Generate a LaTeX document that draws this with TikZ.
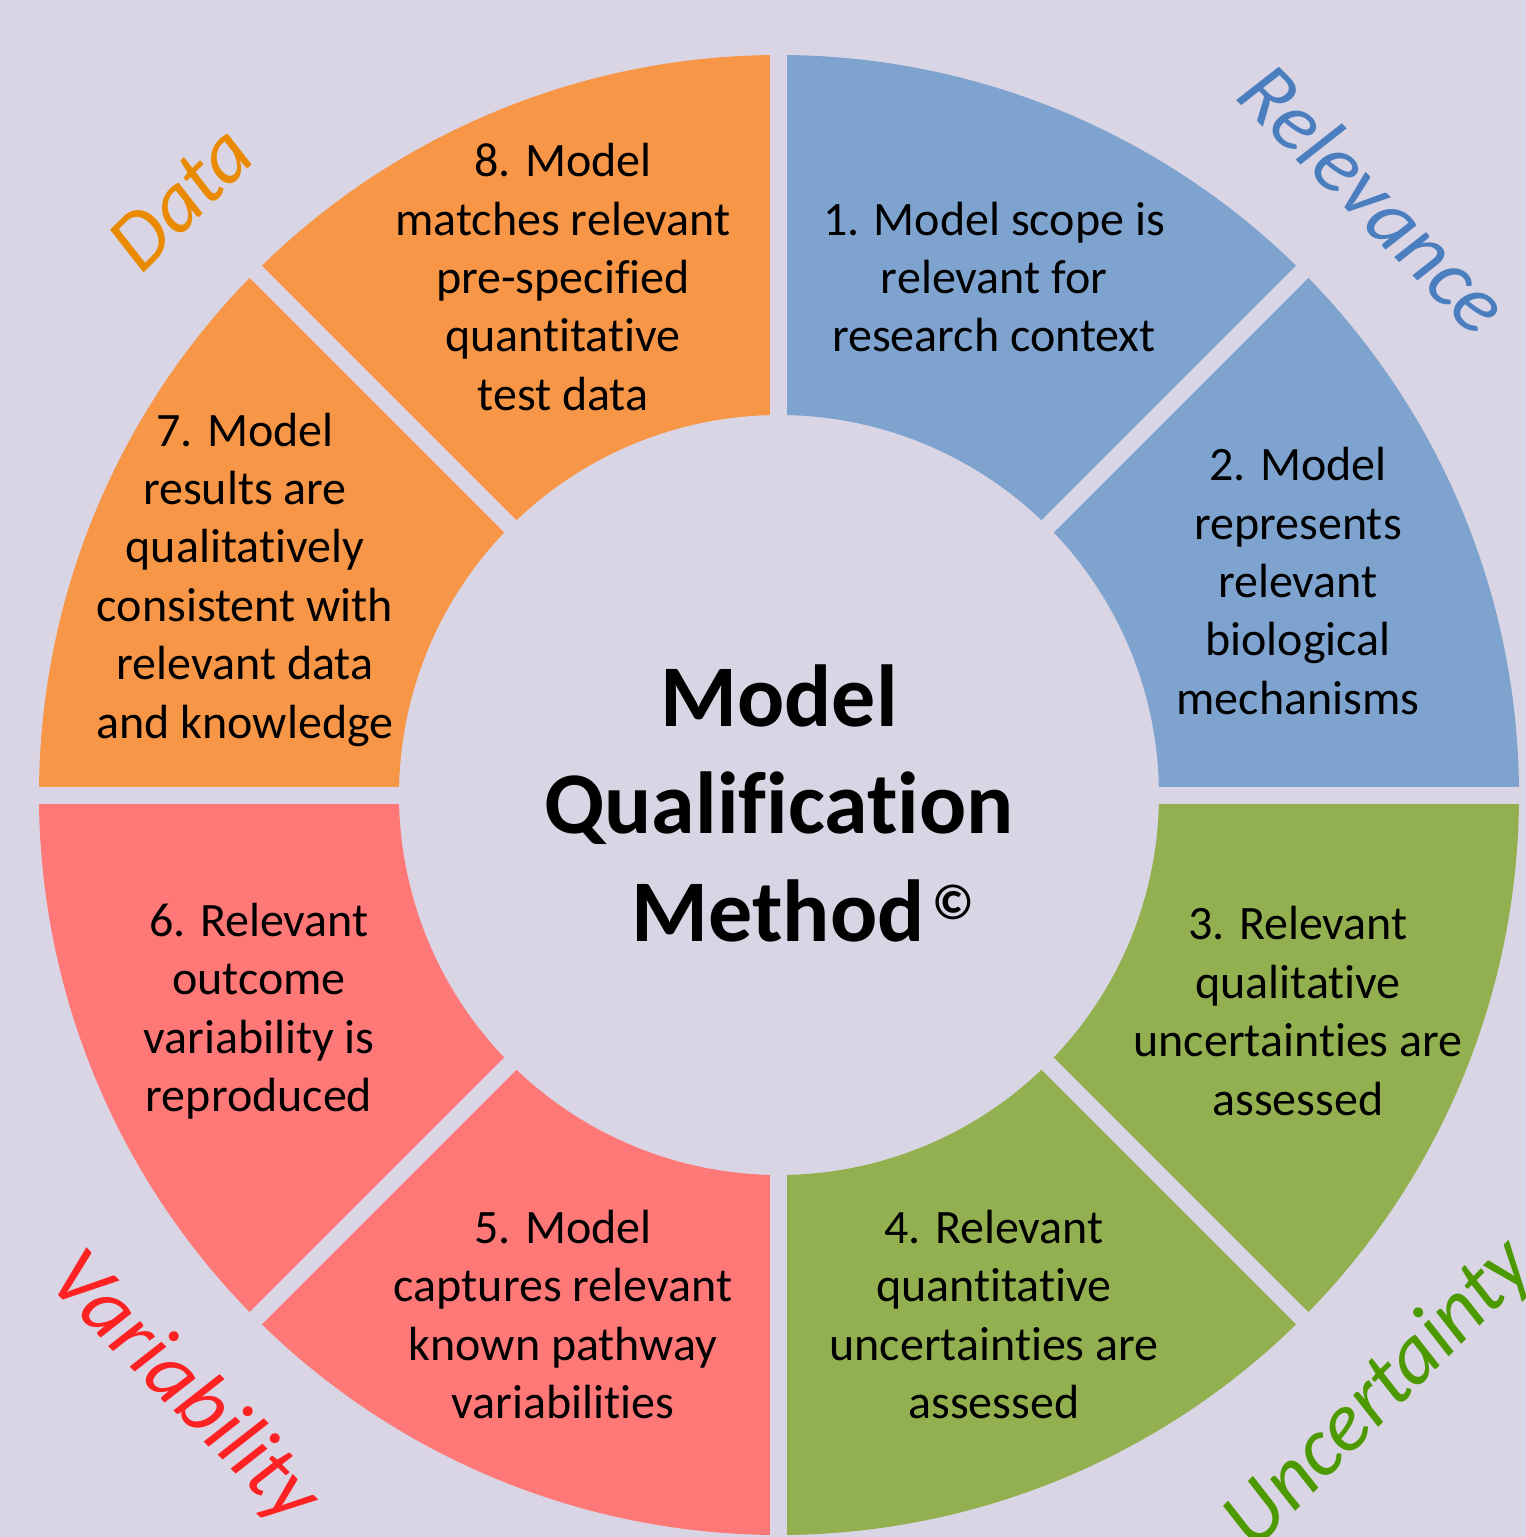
\documentclass[tikz,border=0pt]{standalone}
\usepackage{fontspec}
\setmainfont{Carlito}[Ligatures=NoCommon]
\definecolor{bgc}{HTML}{D9D5E5}
\definecolor{segblue}{HTML}{7EA3CF}
\definecolor{seggreen}{HTML}{92B050}
\definecolor{segred}{HTML}{FF7878}
\definecolor{segorange}{HTML}{F79646}
\definecolor{relc}{HTML}{4A7EBF}
\definecolor{uncc}{HTML}{4D9A00}
\definecolor{varc}{HTML}{FF2222}
\definecolor{datc}{HTML}{E98A00}
\newcommand\ringseg[3]{\fill[#3] (#1:380pt) arc[start angle=#1,end angle=#2,radius=380pt] -- (#2:740pt) arc[start angle=#2,end angle=#1,radius=740pt] -- cycle;}
\begin{document}
\begin{tikzpicture}[x=1pt,y=1pt,
  segtext/.style={font=\fontsize{48}{58.4}\selectfont, align=center, text=black, inner sep=0pt},
  lbl/.style={font=\fontsize{84}{100}\selectfont\itshape, inner sep=0pt},
  gapline/.style={draw=bgc, line width=17pt}]
\fill[bgc] (-779,-742) rectangle (747,795);
\useasboundingbox (-779,-742) rectangle (747,795);
% ring segments
\ringseg{45}{90}{segblue}
\ringseg{0}{45}{segblue}
\ringseg{-45}{0}{seggreen}
\ringseg{-90}{-45}{seggreen}
\ringseg{-135}{-90}{segred}
\ringseg{180}{225}{segred}
\ringseg{135}{180}{segorange}
\ringseg{90}{135}{segorange}
% gaps
\foreach \a in {0,45,...,315}{\draw[gapline] (0,0) -- (\a:760pt);}
% segment texts
\node[segtext] (s1) at (215,518) {1. Model scope is\\relevant for\\research context};
\node[segtext] (s2) at (519,214) {2. Model\\represents\\relevant\\biological\\mechanisms};
\node[segtext] (s3) at (519,-216) {3. Relevant\\qualitative\\uncertainties are\\assessed};
\node[segtext] (s4) at (215,-519.5) {4. Relevant\\quantitative\\uncertainties are\\assessed};
\node[segtext] (s5) at (-216,-519.5) {5. Model\\captures relevant\\known pathway\\variabilities};
\node[segtext] (s6) at (-520,-216) {6. Relevant\\outcome\\variability is\\reproduced};
\node[segtext] (s7) at (-534,215.5) {7. Model\\results are\\qualitatively\\consistent with\\relevant data\\and knowledge};
\node[segtext] (s8) at (-216,518) {8. Model\\matches relevant\\pre-specified\\quantitative\\test data};
% title
\node[font=\fontsize{88}{107.5}\selectfont\bfseries, align=center, inner sep=0pt] (title) at (0,-8)
  {Model\\Qualification\\\hspace*{48pt}Method\hspace{8pt}\raisebox{22pt}{\fontsize{50}{50}\selectfont ©}};
% outer labels
\node[lbl, text=relc, rotate=-45] (relevance) at (596,597) {Relevance};
\node[lbl, text=uncc, rotate=45] (uncertainty) at (601,-600) {Uncertainty};
\node[lbl, text=varc, rotate=-45] (variability) at (-596,-594) {Variability};
\node[lbl, text=datc, rotate=45] (data) at (-598,597) {Data};
\end{tikzpicture}
\end{document}
